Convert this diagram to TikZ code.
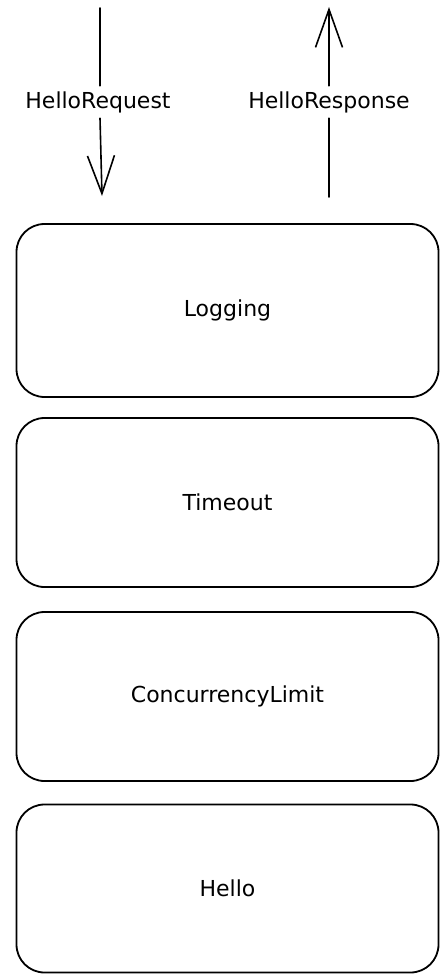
\documentclass[tikz,border=0pt]{standalone}
\usepackage{fontspec}
\setmainfont{DejaVu Sans}
\usetikzlibrary{arrows.meta}
\begin{document}
\begin{tikzpicture}[x=1pt, y=-1pt,
  layer/.style={draw=black, line width=1.8pt, rounded corners=28pt,
    minimum width=422pt, inner sep=0pt, font=\fontsize{22}{26}\selectfont},
  msg/.style={inner sep=0pt, minimum height=32pt, font=\fontsize{22}{26}\selectfont},
  flow/.style={line width=1.6pt, line cap=round},
  tip/.style={-{Straight Barb[length=38pt, width=27pt, line width=1.6pt]}}
]
\useasboundingbox (0,0) rectangle (441,974);

% middleware stack
\node[layer, minimum height=173pt] (logging) at (227.5,310.5) {Logging};
\node[layer, minimum height=169pt] (timeout) at (227.5,502.5) {Timeout};
\node[layer, minimum height=169pt] (limit)   at (227.5,696.5) {ConcurrencyLimit};
\node[layer, minimum height=168pt] (hello)   at (227.5,888.5) {Hello};

% request going in
\coordinate (reqin)  at (100,8);
\coordinate (reqend) at (102,196);
\node[msg] (req) at (98,102) {HelloRequest};
\draw[flow] (reqin) -- (req.north -| reqin);
\draw[flow, tip] (req.south -| reqin) -- (reqend);

% response coming out
\coordinate (respstart) at (329,197);
\coordinate (respout)   at (329,7);
\node[msg] (resp) at (329,102) {HelloResponse};
\draw[flow] (respstart) -- (resp.south);
\draw[flow, tip] (resp.north) -- (respout);
\end{tikzpicture}
\end{document}
